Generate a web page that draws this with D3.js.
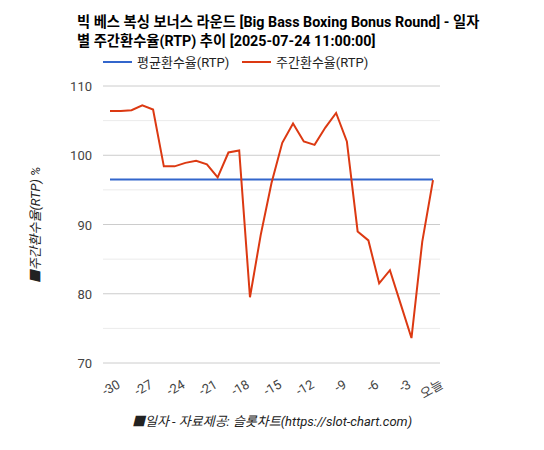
<!DOCTYPE html><html><head><meta charset="utf-8"><script src="https://cdn.jsdelivr.net/npm/d3@7"></script>
<style>body{margin:0;background:#fff;font-family:Roboto,"Noto Sans CJK KR",sans-serif}</style></head><body><svg id="c" width="544" height="450"></svg>
<script>
const days=d3.range(-30,1);
const rtp=[106.4,106.4,106.5,107.2,106.6,98.4,98.4,98.9,99.2,98.7,96.8,100.4,100.7,79.5,88.5,96,101.8,104.6,102,101.5,104,106.1,102,89,87.7,81.5,83.4,78.5,73.6,87.5,96.4];
const avg=days.map(()=>96.5);
const yTicks=[70,80,90,100,110];
const xTicks=[-30,-27,-24,-21,-18,-15,-12,-9,-6,-3,0];
const svg=d3.select("#c");
const x=d3.scaleLinear().domain([-30,0]).range([110,433]);
const y=d3.scaleLinear().domain([70,110]).range([363,86]);
const F='Roboto,"Noto Sans CJK KR",sans-serif';
d3.range(70,111,5).forEach(v=>svg.append("line").attr("x1",103).attr("x2",440).attr("y1",y(v)).attr("y2",y(v)).attr("stroke",v%10?"#ebebeb":"#cccccc"));
yTicks.forEach(v=>svg.append("text").attr("x",92).attr("y",y(v)+5).attr("text-anchor","end").attr("font-size",13).attr("fill","#444").attr("font-family",F).text(v));
xTicks.forEach(v=>svg.append("text").attr("transform",`translate(${x(v)+6},${378}) rotate(-30)`).attr("text-anchor","end").attr("dy","0.8em").attr("font-size",13).attr("fill","#444").attr("font-family",F).text(v===0?"오늘":v));
const line=d3.line().x((d,i)=>x(days[i])).y(d=>y(d));
svg.append("path").attr("d",line(avg)).attr("fill","none").attr("stroke","#3366cc").attr("stroke-width",2);
svg.append("path").attr("d",line(rtp)).attr("fill","none").attr("stroke","#dc3912").attr("stroke-width",2);
svg.append("text").attr("x",77).attr("y",27).attr("font-size",14.3).attr("font-weight","bold").attr("font-family",F).text("빅 베스 복싱 보너스 라운드 [Big Bass Boxing Bonus Round] - 일자");
svg.append("text").attr("x",77).attr("y",46).attr("font-size",14.3).attr("font-weight","bold").attr("font-family",F).text("별 주간환수율(RTP) 추이 [2025-07-24 11:00:00]");
svg.append("line").attr("x1",103).attr("x2",132).attr("y1",62).attr("y2",62).attr("stroke","#3366cc").attr("stroke-width",2);
svg.append("text").attr("x",137).attr("y",67).attr("font-size",13).attr("fill","#222").attr("font-family",F).text("평균환수율(RTP)");
svg.append("line").attr("x1",242).attr("x2",271).attr("y1",62).attr("y2",62).attr("stroke","#dc3912").attr("stroke-width",2);
svg.append("text").attr("x",276).attr("y",67).attr("font-size",13).attr("fill","#222").attr("font-family",F).text("주간환수율(RTP)");
svg.append("text").attr("transform","translate(40,225) rotate(-90)").attr("text-anchor","middle").attr("font-size",13).attr("font-style","italic").attr("fill","#222").attr("font-family",F).text("■주간환수율(RTP) %");
svg.append("text").attr("x",272).attr("y",426).attr("text-anchor","middle").attr("font-size",13).attr("font-style","italic").attr("fill","#222").attr("font-family",F).text("■일자 - 자료제공: 슬롯차트(https://slot-chart.com)");
</script></body></html>
